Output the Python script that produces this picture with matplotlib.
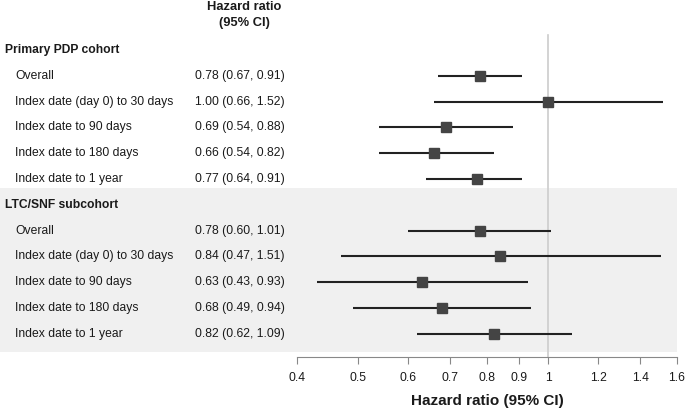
import numpy as np
import matplotlib.pyplot as plt
from matplotlib.transforms import blended_transform_factory

plt.rcParams['font.family'] = ['Liberation Sans', 'DejaVu Sans']

groups = ['Primary PDP cohort', 'LTC/SNF subcohort']
periods = ['Overall', 'Index date (day 0) to 30 days', 'Index date to 90 days',
           'Index date to 180 days', 'Index date to 1 year']
hr_pdp = [0.78, 1.00, 0.69, 0.66, 0.77]
lo_pdp = [0.67, 0.66, 0.54, 0.54, 0.64]
hi_pdp = [0.91, 1.52, 0.88, 0.82, 0.91]
hr_ltc = [0.78, 0.84, 0.63, 0.68, 0.82]
lo_ltc = [0.60, 0.47, 0.43, 0.49, 0.62]
hi_ltc = [1.01, 1.51, 0.93, 0.94, 1.09]
xticks = [0.4, 0.5, 0.6, 0.7, 0.8, 0.9, 1, 1.2, 1.4, 1.6]

W, H = 685, 411
fig = plt.figure(figsize=(W / 100, H / 100), dpi=100)
ax = fig.add_axes([297 / W, (H - 357) / H, 380 / W, 357 / H])
ax.set_xscale('log')
ax.set_xlim(0.4, 1.6)
ax.set_ylim(11.9, -1.94)


def fx(px):
    return px / W

# shaded subgroup block
ax.axhspan(5.35, 11.72, xmin=-297 / 380, xmax=1.0, color='#f0f0f0',
           zorder=0, clip_on=False, lw=0)

# reference line at 1
ax.plot([1, 1], [-0.6, 11.9], color='#cccccc', lw=1.2, zorder=1, clip_on=False)

trans = blended_transform_factory(fig.transFigure, ax.transData)
fs = 8.7
ink = '#1a1a1a'

ax.text(fx(244), -1.67, 'Hazard ratio', transform=trans, ha='center', va='center',
        fontsize=9.3, fontweight='bold', color=ink)
ax.text(fx(244), -1.05, '(95% CI)', transform=trans, ha='center', va='center',
        fontsize=9.3, fontweight='bold', color=ink)

row = 0
for g, hr, lo, hi in [(groups[0], hr_pdp, lo_pdp, hi_pdp),
                      (groups[1], hr_ltc, lo_ltc, hi_ltc)]:
    ax.text(fx(5), row, g, transform=trans, ha='left', va='center',
            fontsize=fs, fontweight='bold', color=ink)
    row += 1
    for p, h, l, u in zip(periods, hr, lo, hi):
        ax.text(fx(15), row, p, transform=trans, ha='left', va='center',
                fontsize=fs, color=ink)
        ax.text(fx(195), row, f'{h:.2f} ({l:.2f}, {u:.2f})', transform=trans,
                ha='left', va='center', fontsize=fs, color=ink)
        ax.plot([l, u], [row, row], color='#222222', lw=1.5, zorder=2,
                solid_capstyle='butt')
        ax.plot(h, row, marker='s', ms=6.5, color='#444444', zorder=3)
        row += 1

for s in ['top', 'right', 'left']:
    ax.spines[s].set_visible(False)
ax.spines['bottom'].set_color('#888888')
ax.set_yticks([])
ax.set_xticks(xticks)
ax.set_xticklabels([f'{t:g}' for t in xticks])
ax.xaxis.set_minor_locator(plt.NullLocator())
ax.tick_params(axis='x', direction='out', length=5, color='#888888',
               labelsize=fs, labelcolor=ink, pad=6)
ax.set_xlabel('Hazard ratio (95% CI)', fontsize=11, fontweight='bold',
              color=ink, labelpad=7)
ax.patch.set_alpha(0)

fig.savefig('out.png', dpi=100)
